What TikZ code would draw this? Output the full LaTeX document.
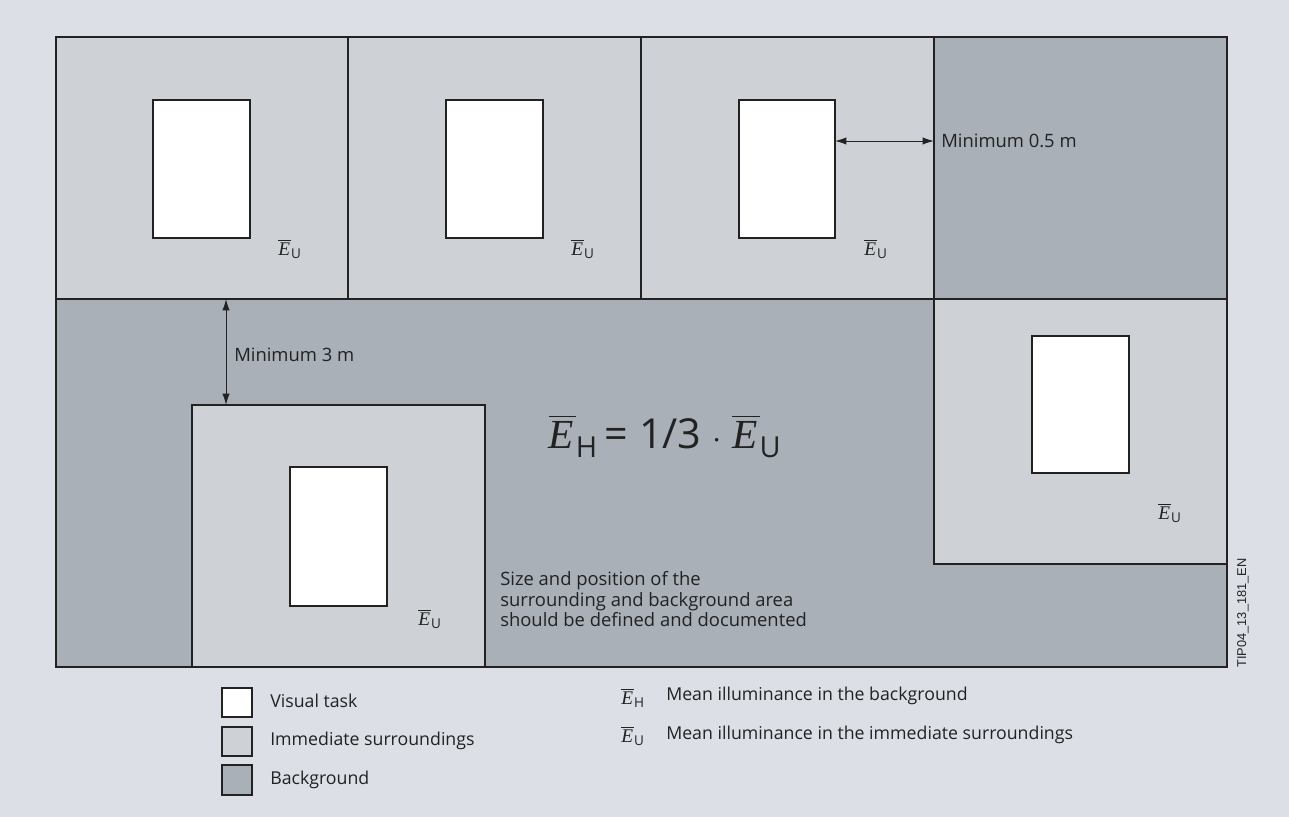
\documentclass[tikz,border=0pt]{standalone}
\usepackage{amsmath}
\usepackage{fontspec}
\setmainfont{Open Sans}
\newfontfamily\serifE{Liberation Serif}
\newfontfamily\idfont{Liberation Sans}
\usetikzlibrary{arrows.meta}
\definecolor{pagebg}{HTML}{DCE0E6}
\definecolor{surr}{HTML}{CED2D7}
\definecolor{backg}{HTML}{A9B0B8}
\definecolor{ink}{HTML}{222222}
\tikzset{
  frame/.style={draw=ink, line width=1.1pt},
  surrbox/.style={frame, fill=surr},
  backbox/.style={frame, fill=backg},
  taskbox/.style={frame, fill=white},
  lbl/.style={font=\fontsize{13.8}{16}\selectfont, text=ink, inner sep=0pt},
  leg/.style={font=\fontsize{13.3}{16}\selectfont, text=ink, inner sep=0pt},
  eu/.style={font=\fontsize{14.5}{16}\selectfont, text=ink, inner sep=0pt},
  dim/.style={draw=ink, line width=0.75pt, {Latex[length=8.5pt,width=5.5pt]}-{Latex[length=8.5pt,width=5.5pt]}},
}
\newcommand{\Ebar}[1]{$\overline{\hbox{\serifE\itshape E\kern0.05em}}_{\text{#1}}$}
\newcommand{\EU}{\Ebar{U}}
\newcommand{\EH}{\Ebar{H}}
\begin{document}
\begin{tikzpicture}[x=0.75pt,y=-0.75pt]
\fill[pagebg] (0,0) rectangle (1289,817);
\useasboundingbox (0,0) rectangle (1289,817);
% background area
\path[backbox] (56,37) rectangle (1227,667);
% top row
\path[surrbox] (56,37) rectangle (348,299);
\path[surrbox] (348,37) rectangle (641,299);
\path[surrbox] (641,37) rectangle (934,299);
\path[backbox] (934,37) rectangle (1227,299);
% right box
\path[surrbox] (934,299) rectangle (1227,564);
% bottom-left box
\path[surrbox] (192,405) rectangle (485,667);
% visual tasks
\path[taskbox] (153,100) rectangle (250,238);
\path[taskbox] (446,100) rectangle (543,238);
\path[taskbox] (739,100) rectangle (835,238);
\path[taskbox] (1032,336) rectangle (1129,473);
\path[taskbox] (290,467) rectangle (387,606);
% outer frame again on top
\draw[frame] (56,37) rectangle (1227,667);
% E_U labels
\node[eu] (eu1) at (290,249) {\EU};
\node[eu] (eu2) at (583,249) {\EU};
\node[eu] (eu3) at (876,249) {\EU};
\node[eu] (eu4) at (1170,513) {\EU};
\node[eu] (eu5) at (430,619) {\EU};
% dimension 0.5 m
\coordinate (a1) at (835,141);
\coordinate (a2) at (934,141);
\draw[dim] (a1) -- (a2);
\node[lbl, anchor=west] (t05) at (941,141) {Minimum 0.5 m};
% dimension 3 m
\coordinate (b1) at (226,299);
\coordinate (b2) at (226,405);
\draw[dim] (b1) -- (b2);
\node[lbl, anchor=west] (t3) at (234,355) {Minimum 3 m};
% formula
\node[font=\fontsize{31}{36}\selectfont, text=ink, inner sep=0pt] (formula) at (665,436) {\Ebar{H}\,= 1/3 $\cdot$ \Ebar{U}};
% note
\node[lbl, anchor=north west, align=left, font=\fontsize{13.8}{15.5}\selectfont] (note) at (500,571) {Size and position of the\\surrounding and background area\\should be defined and documented};
% rotated id
\node[font=\idfont\fontsize{9.6}{11}\selectfont, text=ink, rotate=90, inner sep=0pt] (id) at (1243,613) {TIP04\_13\_181\_EN};
% legend
\path[taskbox] (222,688) rectangle (252,717);
\path[surrbox] (222,727) rectangle (252,756);
\path[backbox] (222,765) rectangle (252,795);
\node[leg, anchor=west] (l1) at (270,701) {Visual task};
\node[leg, anchor=west] (l2) at (270,741) {Immediate surroundings};
\node[leg, anchor=west] (l3) at (270,780) {Background};
\node[eu] (lh) at (633,698) {\EH};
\node[eu] (lu) at (633,736) {\EU};
\node[leg, anchor=west] (l4) at (666,696) {Mean illuminance in the background};
\node[leg, anchor=west] (l5) at (666,735) {Mean illuminance in the immediate surroundings};
\end{tikzpicture}
\end{document}
